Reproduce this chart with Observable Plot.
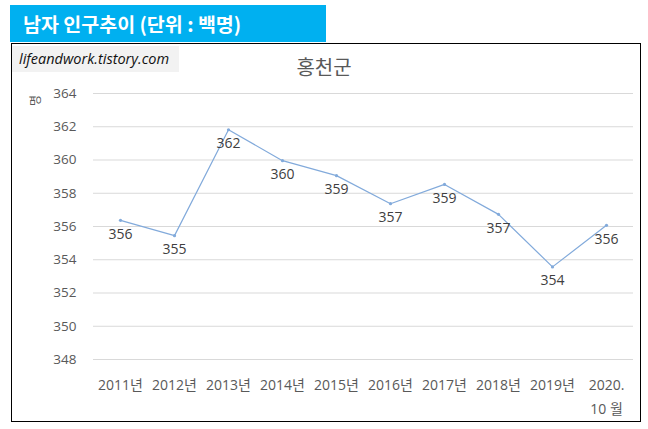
<!DOCTYPE html>
<html>
<head>
<meta charset="utf-8">
<script src="https://cdn.jsdelivr.net/npm/d3@7"></script>
<script src="https://cdn.jsdelivr.net/npm/@observablehq/plot@0.6"></script>
<style>
  body { margin: 0; background: #fff; font-family: "Noto Sans CJK KR", sans-serif; }
  #head {
    position: absolute; left: 10px; top: 5px; width: 316px; height: 37px;
    background: #00b0f0; color: #fff; font-weight: bold; font-size: 19.5px;
    line-height: 37px; box-sizing: border-box; padding-left: 13px;
  }
  #frame {
    position: absolute; left: 11px; top: 43px; width: 628px; height: 377px;
    border: 1.5px solid #000;
  }
  #mark {
    position: absolute; left: 0; top: 2px; width: 167px; height: 26px;
    background: #f2f2f2; font-family: "Open Sans", sans-serif; font-style: italic;
    font-size: 14.5px; line-height: 26px; padding-left: 7px; box-sizing: border-box; color: #111;
  }
  #title {
    position: absolute; left: 0; width: 624px; top: 8px; text-align: center;
    font-size: 20px; color: #595959;
  }
  #unit {
    position: absolute; left: 17px; top: 48px; font-size: 12px; color: #595959;
    transform: rotate(-90deg);
  }
  #chart { position: absolute; left: 0; top: 0; }
</style>
</head>
<body>
<div id="head">남자 인구추이 (단위 : 백명)</div>
<div id="frame">
  <div id="chart"></div>
  <div id="mark">lifeandwork.tistory.com</div>
  <div id="title">홍천군</div>
  <div id="unit">명</div>
</div>
<script>
const years = ["2011년", "2012년", "2013년", "2014년", "2015년", "2016년", "2017년", "2018년", "2019년", "2020.\n10 월"];
const values = [356.37, 355.45, 361.82, 359.96, 359.06, 357.37, 358.53, 356.73, 353.57, 356.07];
const yTicks = [348, 350, 352, 354, 356, 358, 360, 362, 364];

const data = years.map((year, i) => ({ year, value: values[i] }));
const font = "Open Sans, Noto Sans CJK KR, sans-serif";

const chart = Plot.plot({
  width: 628,
  height: 377,
  marginLeft: 81,
  marginRight: 7,
  marginTop: 49,
  marginBottom: 62,
  x: { type: "point", domain: years, padding: 0.5 },
  y: { domain: [348, 364] },
  style: { fontFamily: font, fontSize: "13px", color: "#595959", background: "transparent" },
  marks: [
    Plot.gridY(yTicks, { stroke: "#d9d9d9", strokeOpacity: 1 }),
    Plot.axisY(yTicks, { tickSize: 0, tickPadding: 17, label: null, fill: "#595959", fontFamily: font, fontSize: 13.5 }),
    Plot.axisX({ tickSize: 0, tickPadding: 14, label: null, fill: "#595959", fontFamily: font, fontSize: 14, lineHeight: 1.7 }),
    Plot.line(data, { x: "year", y: "value", stroke: "#82aadb", strokeWidth: 1.2 }),
    Plot.dot(data, { x: "year", y: "value", r: 1.6, fill: "#82aadb" }),
    Plot.text(data, {
      x: "year", y: "value", text: d => d3.format(".0f")(d.value),
      dy: 14, fill: "#404040", fontFamily: font, fontSize: 14
    })
  ]
});

document.getElementById("chart").append(chart);
</script>
</body>
</html>
